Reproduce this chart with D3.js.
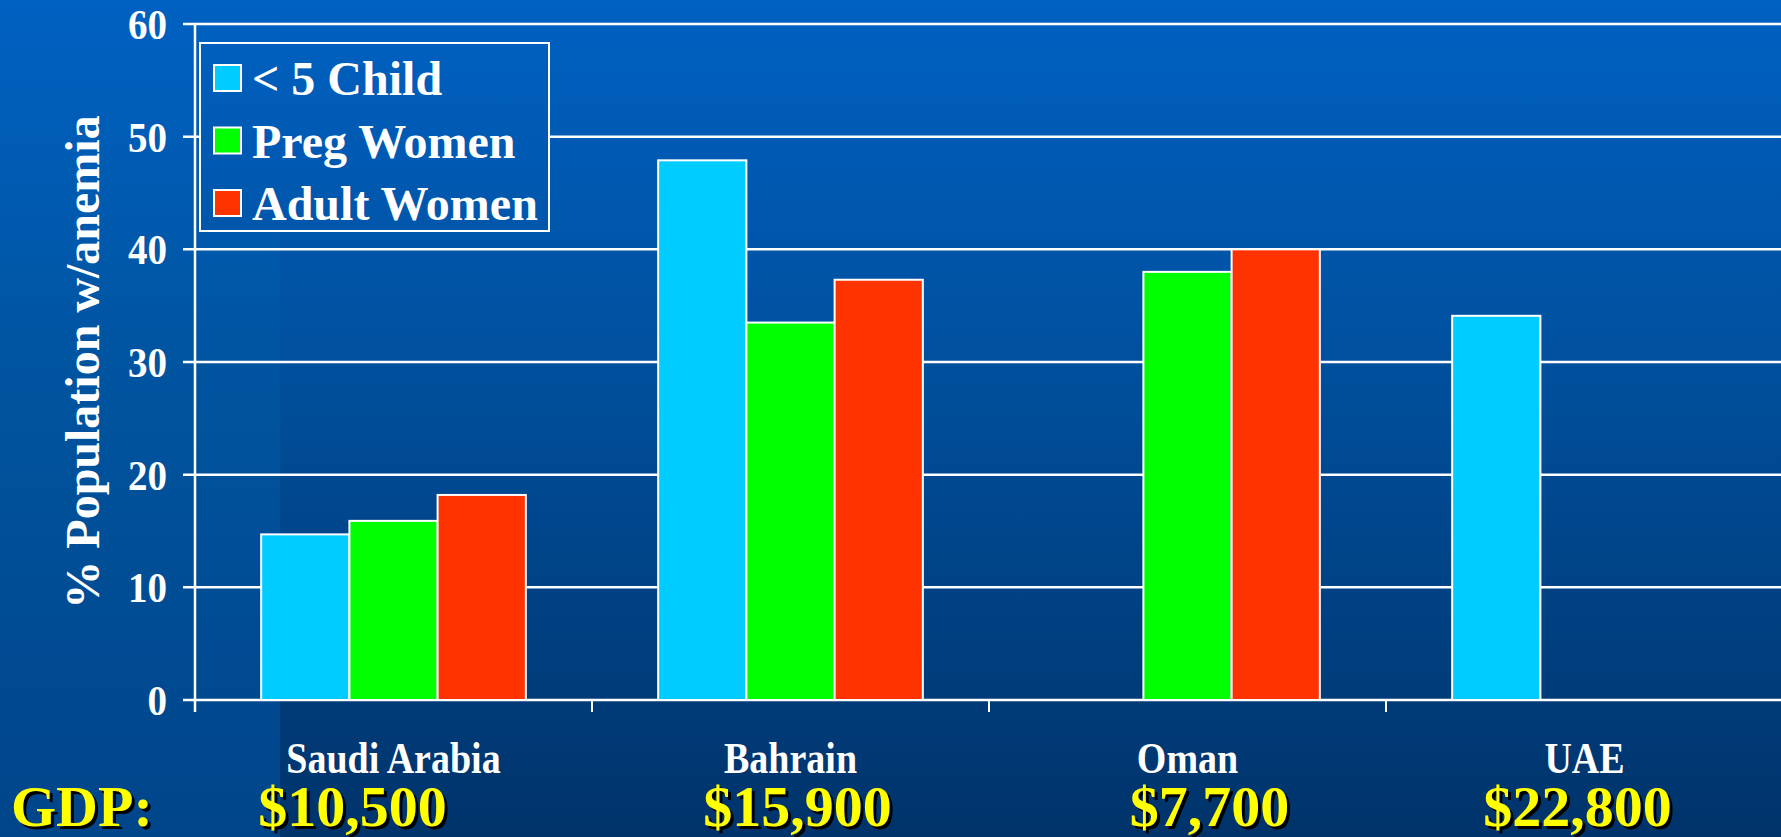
<!DOCTYPE html>
<html>
<head>
<meta charset="utf-8">
<script src="https://cdn.jsdelivr.net/npm/d3@7"></script>
<style>
	html, body { margin: 0; padding: 0; overflow: hidden; background: #003a74; }
	text { font-family: "Liberation Serif", "Times New Roman", serif; font-weight: bold; }
</style>
</head>
<body>
<svg id="chart" width="1781" height="837"></svg>
<script>
// data
let countries = ["Saudi Arabia", "Bahrain", "Oman", "UAE"];
let gdp = ["$10,500", "$15,900", "$7,700", "$22,800"];
let series = ["< 5 Child", "Preg Women", "Adult Women"];
let child_vals = [14.7, 47.9, null, 34.1];
let preg_vals = [15.9, 33.5, 38.0, null];
let adult_vals = [18.2, 37.3, 40.0, null];
let y_ticks = [0, 10, 20, 30, 40, 50, 60];

let colors = ["#00ccff", "#00ff00", "#ff3300"];
let values = [child_vals, preg_vals, adult_vals];

let width = 1781, height = 837;
let margin = {left: 195, top: 24, bottom: 700};
// gdp text boxes sit a little off the category centres on the slide
let gdp_offset = [-41, 7, 22, -7];

let svg = d3.select("#chart");
let defs = svg.append("defs");

let bg = defs.append("linearGradient")
	.attr("id", "bg")
	.attr("gradientUnits", "userSpaceOnUse")
	.attr("x1", 0).attr("y1", 0).attr("x2", 0).attr("y2", height);
bg.append("stop").attr("offset", 0).attr("stop-color", "#0061c2");
bg.append("stop").attr("offset", 0.45).attr("stop-color", "#004f9c");
bg.append("stop").attr("offset", 1).attr("stop-color", "#00336a");

let strip = defs.append("linearGradient")
	.attr("id", "strip")
	.attr("gradientUnits", "userSpaceOnUse")
	.attr("x1", 0).attr("y1", 0).attr("x2", 0).attr("y2", height);
strip.append("stop").attr("offset", 0).attr("stop-color", "#0061c2");
strip.append("stop").attr("offset", 0.45).attr("stop-color", "#00549f");
strip.append("stop").attr("offset", 1).attr("stop-color", "#00458a");

svg.append("rect")
	.attr("width", width).attr("height", height)
	.style("fill", "url(#bg)");
svg.append("rect")
	.attr("width", 280).attr("height", height)
	.style("fill", "url(#strip)");

let x0 = d3.scaleBand()
	.domain(countries)
	.range([margin.left, margin.left + 4 * 397]);

let x1 = d3.scaleBand()
	.domain(series)
	.range([x0.bandwidth() / 6, x0.bandwidth() * 5 / 6]);

let y = d3.scaleLinear()
	.domain([0, 60])
	.range([margin.bottom, margin.top]);

// grid lines
svg.append("g")
	.selectAll("line")
	.data(y_ticks)
	.join("line")
	.attr("x1", margin.left - 12)
	.attr("x2", width)
	.attr("y1", d => y(d))
	.attr("y2", d => y(d))
	.style("stroke", "#ffffff")
	.style("stroke-width", "2.5px");

// y axis line
svg.append("line")
	.attr("x1", margin.left).attr("x2", margin.left)
	.attr("y1", y(60)).attr("y2", y(0) + 12)
	.style("stroke", "#ffffff")
	.style("stroke-width", "2.5px");

// category boundary ticks
svg.append("g")
	.selectAll("line")
	.data(countries)
	.join("line")
	.attr("x1", d => x0(d))
	.attr("x2", d => x0(d))
	.attr("y1", y(0))
	.attr("y2", y(0) + 12)
	.style("stroke", "#ffffff")
	.style("stroke-width", "2px");

svg.append("g")
	.selectAll("text")
	.data(y_ticks)
	.join("text")
	.attr("transform", d => "translate(167," + y(d) + ") scale(1,1.1)")
	.attr("dy", "0.35em")
	.attr("text-anchor", "end")
	.style("font-size", "39px")
	.style("fill", "#ffffff")
	.text(d => d);

svg.append("text")
	.attr("transform", "translate(82," + ((y(0) + y(60)) / 2) + ") rotate(-90)")
	.attr("text-anchor", "middle")
	.attr("dy", "0.35em")
	.style("font-size", "48px")
	.style("fill", "#ffffff")
	.text("% Population w/anemia");

// bars
let groups = svg.append("g")
	.selectAll("g")
	.data(countries)
	.join("g")
	.attr("transform", d => "translate(" + x0(d) + ",0)");

groups.selectAll("rect")
	.data((d, ci) => series.map((s, si) => ({s: s, si: si, v: values[si][ci]})).filter(e => e.v !== null))
	.join("rect")
	.attr("x", d => x1(d.s))
	.attr("width", x1.bandwidth())
	.attr("y", d => y(d.v))
	.attr("height", d => y(0) - y(d.v))
	.style("fill", d => colors[d.si])
	.style("stroke", "#ffffff")
	.style("stroke-width", "2px");

// category labels
svg.append("g")
	.selectAll("text")
	.data(countries)
	.join("text")
	.attr("transform", d => "translate(" + (x0(d) + x0.bandwidth() / 2) + ",773) scale(1,1.15)")
	.attr("text-anchor", "middle")
	.style("font-size", "38px")
	.style("fill", "#ffffff")
	.text(d => d);

// gdp row with drop shadow
let gdp_row = svg.append("g");
[["#000000", 3], ["#ffff00", 0]].forEach(([c, off]) => {
	gdp_row.append("text")
		.attr("x", 11 + off)
		.attr("y", 826 + off)
		.style("font-size", "58px")
		.style("fill", c)
		.text("GDP:");
	gdp_row.append("g")
		.selectAll("text")
		.data(countries)
		.join("text")
		.attr("x", (d, i) => x0(d) + x0.bandwidth() / 2 + gdp_offset[i] + off)
		.attr("y", 826 + off)
		.attr("text-anchor", "middle")
		.style("font-size", "58px")
		.style("fill", c)
		.text((d, i) => gdp[i]);
});

// legend
let legend = svg.append("g");
legend.append("rect")
	.attr("x", 200).attr("y", 43)
	.attr("width", 349).attr("height", 188)
	.style("fill", "url(#bg)")
	.style("stroke", "#ffffff")
	.style("stroke-width", "2px");

let rows = legend.selectAll("g")
	.data(series)
	.join("g")
	.attr("transform", (d, i) => "translate(214," + (78 + i * 62.5) + ")");

rows.append("rect")
	.attr("x", 0).attr("y", -13)
	.attr("width", 27).attr("height", 26)
	.style("fill", (d, i) => colors[i])
	.style("stroke", "#ffffff")
	.style("stroke-width", "2px");

rows.append("text")
	.attr("x", 38)
	.attr("y", 17)
	.style("font-size", "48px")
	.style("fill", "#ffffff")
	.text(d => d);
</script>
</body>
</html>
